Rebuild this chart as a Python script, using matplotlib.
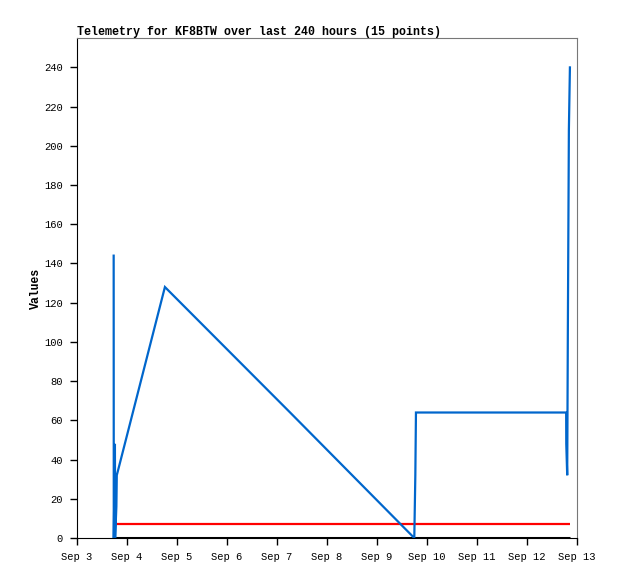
import matplotlib
matplotlib.use("Agg")
import matplotlib.pyplot as plt
import numpy as np
from datetime import datetime, timedelta

# Hours since Sep 3 00:00 for each telemetry sample
blue_hours = [17.6, 17.65, 18.2, 18.3, 18.9, 19.1, 42.2, 102.3, 161.9, 162.4, 162.7, 234.8, 234.85, 235.3, 235.6, 236.1, 236.6]
blue_values = [144, 0, 48, 0, 16, 32, 128, 64, 0, 32, 64, 64, 48, 32, 104, 208, 240]

red_hours = [18.6, 236.6]
red_values = [7, 7]

black_hours = [17.6, 236.6]
black_values = [0, 0]

x_tick_labels = ["Sep 3", "Sep 4", "Sep 5", "Sep 6", "Sep 7", "Sep 8",
                 "Sep 9", "Sep 10", "Sep 11", "Sep 12", "Sep 13"]
y_ticks = [0, 20, 40, 60, 80, 100, 120, 140, 160, 180, 200, 220, 240]

base = datetime(2023, 9, 3)
def to_dt(hs):
    return [base + timedelta(hours=h) for h in hs]

plt.rcParams['font.family'] = ['Liberation Mono', 'DejaVu Sans Mono']

fig = plt.figure(figsize=(6.18, 5.79), dpi=100)
ax = fig.add_axes([77/618, 1 - 538/579, 500/618, 500/579])

ax.plot(to_dt(black_hours), black_values, color="black", lw=2.2, solid_capstyle="butt")
ax.plot(to_dt(red_hours), red_values, color="#ff0000", lw=1.6, solid_capstyle="butt")
ax.plot(to_dt(blue_hours), blue_values, color="#0066cc", lw=1.6, solid_joinstyle="miter")

ax.set_xlim(base, base + timedelta(days=10))
ax.set_ylim(0, 255)
ax.set_yticks(y_ticks)
ax.set_xticks([base + timedelta(days=i) for i in range(11)])
ax.set_xticklabels(x_tick_labels)

ax.tick_params(axis="both", direction="out", length=5, width=1, labelsize=7.6, colors="black", pad=5)
for s in ["top", "right"]:
    ax.spines[s].set_color("#777777")
for s in ["left", "bottom"]:
    ax.spines[s].set_color("black")

ax.set_ylabel("Values", fontsize=8.3, fontweight="bold", labelpad=2)
fig.text(77/618, 1 - 35/579, "Telemetry for KF8BTW over last 240 hours (15 points)",
         fontsize=8.4, fontweight="bold", ha="left", va="baseline")

fig.savefig("out.png", dpi=100)
